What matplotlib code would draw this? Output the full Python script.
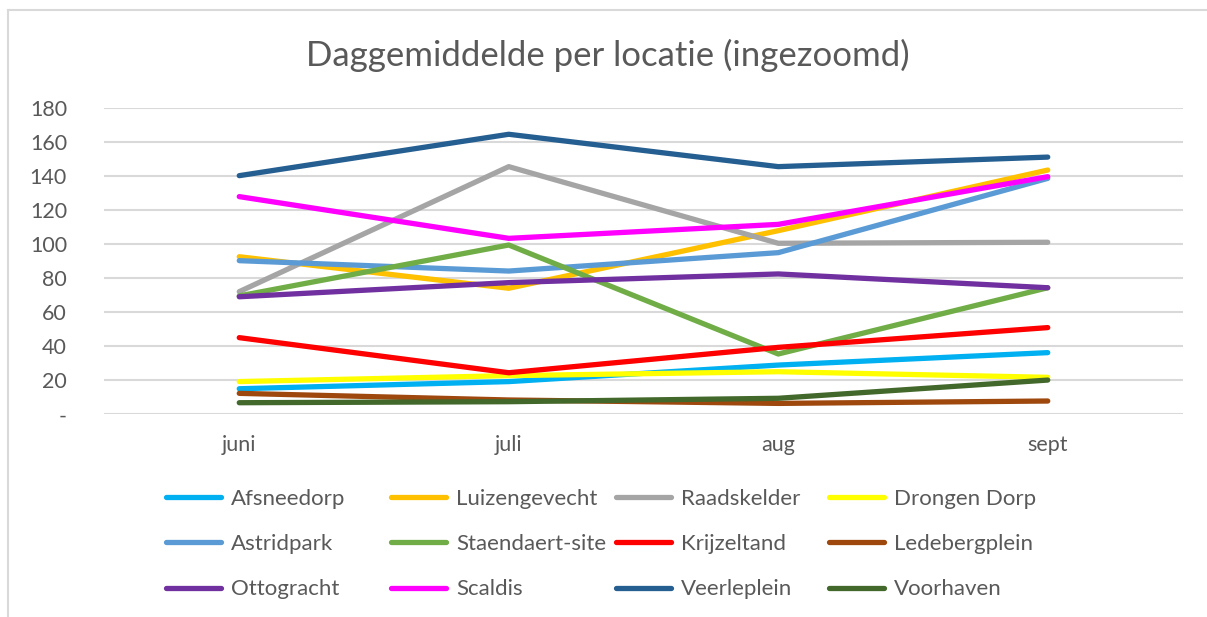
import matplotlib
matplotlib.use("Agg")
import matplotlib.pyplot as plt
from matplotlib.lines import Line2D

plt.rcParams['font.family'] = ['Lato', 'DejaVu Sans']

months = ["juni", "juli", "aug", "sept"]
afsneedorp    = [15.0, 19.2, 28.9, 36.2]
luizengevecht = [92.5, 74.0, 107.8, 143.4]
raadskelder   = [72.0, 145.4, 100.4, 101.0]
drongen_dorp  = [19.2, 22.7, 25.0, 21.7]
astridpark    = [90.2, 84.1, 94.9, 138.5]
staendaert    = [69.5, 99.4, 35.4, 74.3]
krijzeltand   = [45.0, 24.4, 39.3, 50.9]
ledebergplein = [12.3, 8.4, 6.4, 7.8]
ottogracht    = [69.0, 77.3, 82.4, 74.3]
scaldis       = [127.8, 103.3, 111.5, 139.5]
veerleplein   = [140.1, 164.4, 145.4, 151.0]
voorhaven     = [6.8, 7.4, 9.4, 20.1]

series = [
    ("Afsneedorp", afsneedorp, "#00B0F0"),
    ("Luizengevecht", luizengevecht, "#FFC000"),
    ("Raadskelder", raadskelder, "#A5A5A5"),
    ("Drongen Dorp", drongen_dorp, "#FFFF00"),
    ("Astridpark", astridpark, "#5B9BD5"),
    ("Staendaert-site", staendaert, "#70AD47"),
    ("Krijzeltand", krijzeltand, "#FF0000"),
    ("Ledebergplein", ledebergplein, "#9E480E"),
    ("Ottogracht", ottogracht, "#7030A0"),
    ("Scaldis", scaldis, "#FF00FF"),
    ("Veerleplein", veerleplein, "#255E91"),
    ("Voorhaven", voorhaven, "#43682B"),
]
yticks = [0, 20, 40, 60, 80, 100, 120, 140, 160, 180]
ytick_labels = ["-", "20", "40", "60", "80", "100", "120", "140", "160", "180"]

W, H = 1207, 617
fig = plt.figure(figsize=(W / 100, H / 100), dpi=100)
fig.patch.set_facecolor("white")

# chart border (left and top visible)
fig.add_artist(Line2D([8 / W, 8 / W], [0, 1 - 10 / H], transform=fig.transFigure,
                      color="#D9D9D9", lw=1.5))
fig.add_artist(Line2D([8 / W, 1], [1 - 10 / H, 1 - 10 / H], transform=fig.transFigure,
                      color="#D9D9D9", lw=1.5))
# clipped text fragments above chart (from surrounding document)
fig.text(128 / W, 1 + 9 / H, "g", fontsize=13, color="black", va="baseline")
fig.text(727 / W, 1 + 9 / H, ", g", fontsize=13, color="black", va="baseline")

left, right = 104.5 / W, 1182.5 / W
bottom, top = 1 - 414.3 / H, 1 - 107.7 / H
ax = fig.add_axes([left, bottom, right - left, top - bottom])
x = list(range(len(months)))
handles = []
for name, vals, col in series:
    h, = ax.plot(x, vals, color=col, lw=3.8, solid_capstyle="round",
                 solid_joinstyle="round", label=name)
    handles.append(h)

ax.set_xlim(-0.5, len(months) - 0.5)
ax.set_ylim(0, 180)
ax.set_yticks(yticks)
ax.set_yticklabels(ytick_labels)
ax.set_xticks(x)
ax.set_xticklabels(months)
ax.grid(axis="y", color="#D9D9D9", lw=1.5)
ax.set_axisbelow(True)
for s in ax.spines.values():
    s.set_visible(False)
ax.tick_params(axis="both", length=0, labelsize=15.5, colors="#595959")
ax.tick_params(axis="y", pad=27)
ax.tick_params(axis="x", pad=15)

fig.text(0.5 * (8 + 1207) / W, 1 - 55 / H, "Daggemiddelde per locatie (ingezoomd)",
         ha="center", va="center", fontsize=25, color="#595959")

# legend: 4 columns, 3 rows (row-wise order as in reference)
col_x = [166, 391, 616, 829]
for c in range(4):
    hs = [handles[r * 4 + c] for r in range(3)]
    labs = [h.get_label() for h in hs]
    leg = fig.legend(hs, labs, loc="upper left",
                     bbox_to_anchor=(col_x[c] / W, 1 - 489 / H),
                     frameon=False, fontsize=16, labelcolor="#595959",
                     handlelength=2.48, handletextpad=0.45, labelspacing=1.135,
                     borderaxespad=0, borderpad=0)
    for lh in leg.get_lines():
        lh.set_linewidth(3.8)
        lh.set_solid_capstyle("round")

fig.savefig("out.png", dpi=100, facecolor="white")
